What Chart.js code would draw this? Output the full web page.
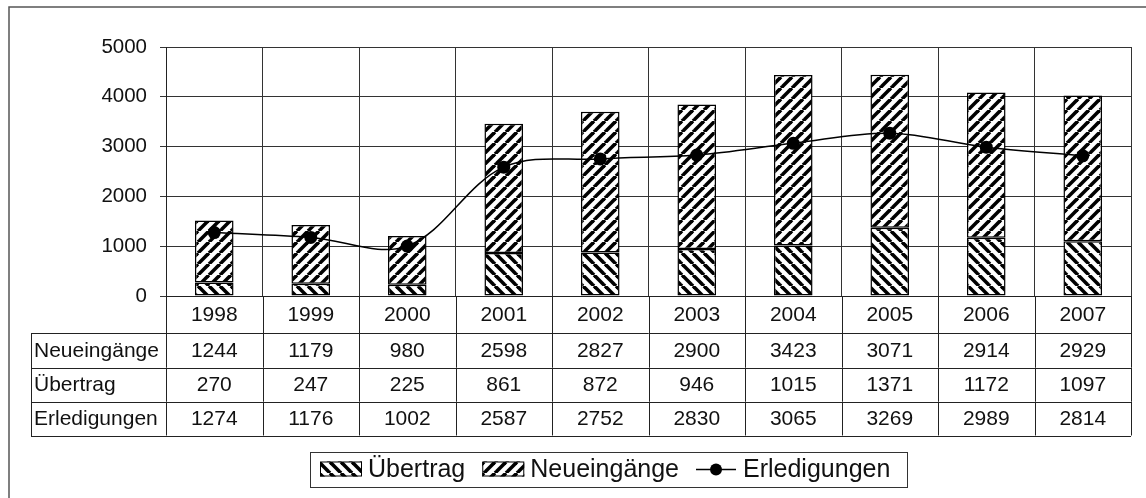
<!DOCTYPE html>
<html>
<head>
<meta charset="utf-8">
<script src="https://cdn.jsdelivr.net/npm/chart.js@4.4.0/dist/chart.umd.min.js"></script>
<style>
  body { margin: 0; background: #fff; }
  #wrap { width: 1146px; height: 498px; }
</style>
</head>
<body>
<div id="wrap"><canvas id="myChart" width="1146" height="498"></canvas></div>
<script>
const years = ['1998', '1999', '2000', '2001', '2002', '2003', '2004', '2005', '2006', '2007'];
const neueingaenge = [1244, 1179, 980, 2598, 2827, 2900, 3423, 3071, 2914, 2929];
const uebertrag = [270, 247, 225, 861, 872, 946, 1015, 1371, 1172, 1097];
const erledigungen = [1274, 1176, 1002, 2587, 2752, 2830, 3065, 3269, 2989, 2814];
const yMin = 0, yMax = 5000, yStep = 1000;

const FONT = "'Liberation Sans', Arial, sans-serif";
const ctx = document.getElementById('myChart').getContext('2d');

// diagonal hatch fill, dir '/' or '\'
function hatch(dir) {
    const s = 11;
    const c = document.createElement('canvas');
    c.width = s; c.height = s;
    const g = c.getContext('2d');
    g.fillStyle = '#fff';
    g.fillRect(0, 0, s, s);
    g.strokeStyle = '#000';
    g.lineWidth = 3.6;
    for (const k of [-s, 0, s]) {
        g.beginPath();
        if (dir === '/') { g.moveTo(k, s); g.lineTo(k + s, 0); }
        else { g.moveTo(k, 0); g.lineTo(k + s, s); }
        g.stroke();
    }
    return ctx.createPattern(c, 'repeat');
}
const backHatch = hatch('\\');
const fwdHatch = hatch('/');

// data table under the plot + frame + legend
const tablePlugin = {
    id: 'table',
    afterDraw(chart) {
        const c = chart.ctx;
        const a = chart.chartArea;
        const x = chart.scales.x;
        const n = years.length;
        const cw = (a.right - a.left) / n;
        const labelLeft = 31;

        c.save();
        // outer frame (left + top)
        c.strokeStyle = '#555';
        c.lineWidth = 1.5;
        c.beginPath();
        c.moveTo(9, 498); c.lineTo(9, 7); c.lineTo(1146, 7);
        c.stroke();

        const rows = [
            { label: null, vals: years, h: 37 },
            { label: 'Neueingänge', vals: neueingaenge, h: 34.5 },
            { label: 'Übertrag', vals: uebertrag, h: 34 },
            { label: 'Erledigungen', vals: erledigungen, h: 34 }
        ];
        c.font = '21px ' + FONT;
        c.textBaseline = 'middle';
        c.strokeStyle = '#222';
        c.lineWidth = 1;
        let top = a.bottom;
        rows.forEach(r => {
            const bottom = top + r.h;
            const left = r.label ? labelLeft : a.left;
            c.beginPath();
            c.moveTo(left, Math.round(bottom) + 0.5);
            c.lineTo(a.right, Math.round(bottom) + 0.5);
            if (r.label) {
                c.moveTo(left + 0.5, Math.round(top) + 0.5);
                c.lineTo(left + 0.5, Math.round(bottom) + 0.5);
                c.moveTo(left, Math.round(top) + 0.5);
                c.lineTo(a.left, Math.round(top) + 0.5);
            }
            for (let i = 0; i <= n; i++) {
                const px = Math.round(x.getPixelForValue(i) - cw / 2) + 0.5;
                c.moveTo(px, top); c.lineTo(px, bottom);
            }
            c.stroke();
            c.fillStyle = '#111';
            if (r.label) {
                c.textAlign = 'left';
                c.fillText(r.label, labelLeft + 3, (top + bottom) / 2 + 1);
            }
            c.textAlign = 'center';
            r.vals.forEach((v, i) => c.fillText(String(v), x.getPixelForValue(i), (top + bottom) / 2 + 1));
            top = bottom;
        });

        // legend
        const lt = 452, lb = 487, lx = 310, lr = 907;
        c.font = '25px ' + FONT;
        c.textAlign = 'left';
        let cx = lx + 10;
        const mid = (lt + lb) / 2;
        const items = chart.data.datasets.slice().sort((p, q) => p.legendIdx - q.legendIdx);
        items.forEach(d => {
            if (d.type === 'line') {
                c.strokeStyle = '#000';
                c.lineWidth = 1.5;
                c.beginPath(); c.moveTo(cx, mid); c.lineTo(cx + 40, mid); c.stroke();
                c.fillStyle = '#000';
                c.beginPath(); c.arc(cx + 20, mid, 6, 0, Math.PI * 2); c.fill();
                cx += 47;
            } else {
                c.fillStyle = d.backgroundColor;
                c.fillRect(cx, mid - 8, 42, 15);
                c.strokeStyle = '#000';
                c.lineWidth = 1;
                c.strokeRect(cx + 0.5, mid - 7.5, 41, 14);
                cx += 48;
            }
            c.fillStyle = '#111';
            c.fillText(d.label, cx, mid + 1);
            cx += c.measureText(d.label).width + 17;
        });
        c.strokeStyle = '#333';
        c.lineWidth = 1;
        c.strokeRect(lx + 0.5, lt + 0.5, lr - lx, lb - lt);
        c.restore();
    }
};

const graphData = {
    type: 'bar',
    data: {
        labels: years,
        datasets: [
            {
                type: 'line',
                label: 'Erledigungen',
                legendIdx: 2,
                data: erledigungen,
                borderColor: '#000',
                borderWidth: 1.5,
                backgroundColor: '#000',
                pointRadius: 6.5,
                pointBorderWidth: 0,
                tension: 0.35,
                stack: 'line',
                order: 0
            },
            {
                label: 'Übertrag',
                legendIdx: 0,
                data: uebertrag,
                backgroundColor: backHatch,
                borderColor: '#000',
                borderWidth: 1.5,
                borderSkipped: false,
                stack: 'bars',
                order: 1
            },
            {
                label: 'Neueingänge',
                legendIdx: 1,
                data: neueingaenge,
                backgroundColor: fwdHatch,
                borderColor: '#000',
                borderWidth: 1.5,
                borderSkipped: false,
                stack: 'bars',
                order: 2
            }
        ]
    },
    options: {
        responsive: false,
        animation: false,
        layout: { padding: { top: 47, right: 15, bottom: 202, left: 0 } },
        datasets: { bar: { categoryPercentage: 1, barPercentage: 0.4 } },
        plugins: { legend: { display: false }, tooltip: { enabled: false } },
        scales: {
            x: {
                stacked: true,
                ticks: { display: false },
                grid: { color: '#333', lineWidth: 1, drawTicks: false, offset: true },
                border: { color: '#222', width: 1 },
                afterFit(s) { s.height = 0; }
            },
            y: {
                stacked: true,
                min: yMin,
                max: yMax,
                ticks: {
                    stepSize: yStep, padding: 13, color: '#111',
                    font: { family: FONT, size: 20.5 },
                    callback: v => String(v)
                },
                grid: { color: '#333', lineWidth: 1, tickLength: 6 },
                border: { color: '#222', width: 1 },
                afterFit(s) { s.width = 166; }
            }
        }
    },
    plugins: [tablePlugin]
};
const myChart = new Chart(ctx, graphData);
</script>
</body>
</html>
